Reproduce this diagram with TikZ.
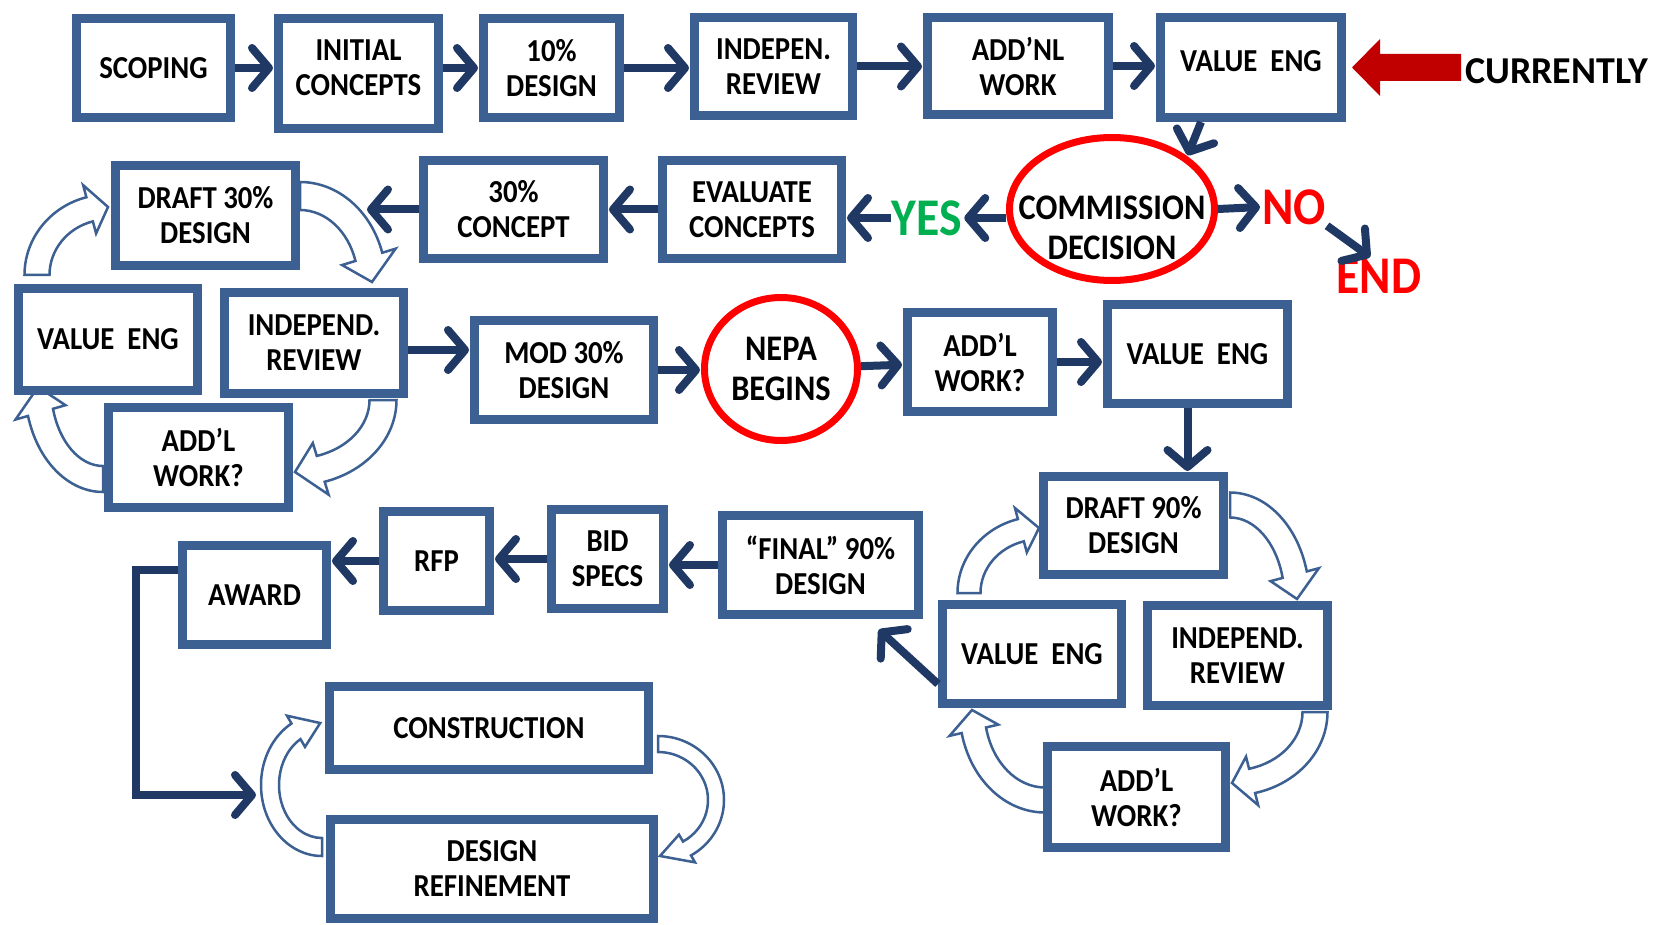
\documentclass[tikz,border=0pt]{standalone}
\usepackage{fontspec}
\setmainfont{Carlito}[FakeStretch=0.9]
\newfontfamily\nowfont{Carlito}
\usetikzlibrary{arrows.meta,shapes.geometric}
\definecolor{StageClr}{RGB}{59,96,145}
\definecolor{FlowClr}{RGB}{31,56,100}
\definecolor{DecideClr}{RGB}{255,0,0}
\definecolor{NowClr}{RGB}{192,0,0}
\definecolor{YesClr}{RGB}{0,176,80}

\newcommand{\stagefont}{\fontsize{32}{35}\selectfont\bfseries}
\newcommand{\decidefont}{\fontsize{36}{40}\selectfont\bfseries}
\newcommand{\answerfont}{\fontsize{53}{56}\selectfont\bfseries}

\newcommand{\cyclearrow}[7]{%
  \pgfmathsetmacro{\rxo}{#2+#7}\pgfmathsetmacro{\ryo}{#3+#7}%
  \pgfmathsetmacro{\rxi}{#2-#7}\pgfmathsetmacro{\ryi}{#3-#7}%
  \filldraw[cyclearr,shift={#1}]
    ({\rxo*cos(#4)},{\ryo*sin(#4)}) arc[start angle=#4,end angle=#5,x radius=\rxo,y radius=\ryo]
    -- ({(#2+2*#7)*cos(#5)},{(#3+2*#7)*sin(#5)})
    -- ({#2*cos(#6)},{#3*sin(#6)})
    -- ({(#2-2*#7)*cos(#5)},{(#3-2*#7)*sin(#5)})
    -- ({\rxi*cos(#5)},{\ryi*sin(#5)}) arc[start angle=#5,end angle=#4,x radius=\rxi,y radius=\ryi]
    -- cycle;}

\begin{document}
\begin{tikzpicture}[x=1pt,y=-1pt,
  stage/.style={draw=StageClr,line width=9pt,fill=white,align=center,inner sep=0pt,font=\stagefont},
  decide/.style={ellipse,draw=DecideClr,line width=7pt,fill=white,inner sep=0pt},
  decidetext/.style={font=\decidefont,align=center},
  flow/.style={draw=FlowClr,line width=8pt,-{Straight Barb[length=17pt,width=40pt,round]},shorten >=1pt},
  cyclearr/.style={draw=StageClr,line width=2.5pt,fill=white},
  answer/.style={font=\answerfont,inner sep=1pt}]

\path[use as bounding box,fill=white] (0,0) rectangle (1663,925);

\cyclearrow{(108,275)}{71}{68}{180}{255}{270}{12.5}
\cyclearrow{(300,282)}{72}{86}{270}{343}{360}{14}
\cyclearrow{(295,400)}{88}{72}{0}{73}{90}{13.5}
\cyclearrow{(103,387)}{65}{92}{90}{164}{180}{13}

\cyclearrow{(1039,593)}{70}{65}{180}{255}{270}{11.5}
\cyclearrow{(1230,599)}{67}{94}{270}{345}{360}{12.5}
\cyclearrow{(1232,712)}{83}{71}{0}{76}{90}{12.5}
\cyclearrow{(1045,710)}{73}{90}{90}{167}{180}{12.5}

\cyclearrow{(322,785)}{52}{62}{90}{240}{268}{9}
\cyclearrow{(658,800)}{58}{56}{270}{420}{448}{8}

\node[stage,minimum width=154,minimum height=99] (scoping) at (153.5,68) {SCOPING};
\node[stage,minimum width=160,minimum height=110,text depth=12pt] (initial) at (358.5,73.5) {INITIAL\\CONCEPTS};
\node[stage,minimum width=136,minimum height=99] (tenpct) at (551.5,68) {10\%\\DESIGN};
\node[stage,minimum width=158,minimum height=98] (indepen) at (773.5,66.5) {INDEPEN.\\REVIEW};
\node[stage,minimum width=181,minimum height=97] (addnl) at (1018,66) {ADD’NL\\WORK};
\node[stage,minimum width=181,minimum height=100,text depth=12pt] (valueeng) at (1251,67.5) {VALUE\ \ ENG};

\node[stage,minimum width=180,minimum height=100] (draftthirty) at (205.5,215.5) {DRAFT 30\%\\DESIGN};
\node[stage,minimum width=180,minimum height=98] (concept) at (513.5,209.5) {30\%\\CONCEPT};
\node[stage,minimum width=179,minimum height=98] (evaluate) at (752,209.5) {EVALUATE\\CONCEPTS};
\node[decide,minimum width=205,minimum height=143,label={[decidetext,yshift=-19pt]center:COMMISSION\\DECISION}] (commission) at (1112,209) {};
\node[answer,text=YesClr] (yes) at (927,218) {YES};
\node[answer,text=DecideClr] (no) at (1294,207) {NO};
\node[answer,text=DecideClr] (end) at (1379,276) {END};

\node[stage,minimum width=179,minimum height=102] (lvalue) at (108,339.5) {VALUE\ \ ENG};
\node[stage,minimum width=179,minimum height=101] (lindep) at (314,343) {INDEPEND.\\REVIEW};
\node[stage,minimum width=180,minimum height=100] (laddl) at (198.5,457.5) {ADD’L\\WORK?};

\node[stage,minimum width=179,minimum height=99] (modthirty) at (564,370) {MOD 30\%\\DESIGN};
\node[decide,minimum width=153,minimum height=143,label={[decidetext]center:NEPA\\BEGINS}] (nepa) at (781,369) {};
\node[stage,minimum width=145,minimum height=99] (raddl) at (980,362) {ADD’L\\WORK?};
\node[stage,minimum width=180,minimum height=99] (rvalue) at (1197.5,354) {VALUE\ \ ENG};

\node[stage,minimum width=180,minimum height=98] (draftninety) at (1133.5,525.5) {DRAFT 90\%\\DESIGN};
\node[stage,minimum width=179,minimum height=99] (rrvalue) at (1032,654) {VALUE\ \ ENG};
\node[stage,minimum width=180,minimum height=100] (rrindep) at (1237.5,655.5) {INDEPEND.\\REVIEW};
\node[stage,minimum width=178,minimum height=101] (rraddl) at (1136.5,797) {ADD’L\\WORK?};

\node[stage,minimum width=196,minimum height=99] (final) at (820.5,565) {“FINAL” 90\%\\DESIGN};
\node[stage,minimum width=112,minimum height=99] (bidspecs) at (607.5,559) {BID\\SPECS};
\node[stage,minimum width=106,minimum height=99] (rfp) at (436.5,561) {RFP};
\node[stage,minimum width=144,minimum height=99] (award) at (254.5,595) {AWARD};
\node[stage,minimum width=319,minimum height=83] (construction) at (489,728) {CONSTRUCTION};
\node[stage,minimum width=323,minimum height=99] (refinement) at (492,869) {DESIGN\\REFINEMENT};

\fill[NowClr] ([xshift=6pt]valueeng.east) -- ++(28,-28.5) -- ++(0,15) -- ++(81,0) -- ++(0,27) -- ++(-81,0) -- ++(0,15) -- cycle;
\node[font={\nowfont\fontsize{38}{40}\selectfont\bfseries},anchor=west,inner sep=0pt] (currently) at (1465,71) {CURRENTLY};

\draw[flow] (scoping.east) -- (scoping.east -| initial.west);
\draw[flow] (initial.east |- tenpct) -- (tenpct.west);
\draw[flow] (tenpct.east) -- (tenpct.east -| indepen.west);
\draw[flow] (indepen.east) -- (indepen.east -| addnl.west);
\draw[flow] (addnl.east) -- (addnl.east -| valueeng.west);

\draw[flow] ([xshift=-50pt]valueeng.south) -- (commission.35);
\draw[flow] (commission.east) -- (no.west);
\draw[flow] (no.south east) -- ([xshift=-8pt]end.north);
\draw[flow] (commission.west |- yes) -- (yes.east);
\draw[flow] (yes.west) -- (yes.west -| evaluate.east);
\draw[flow] (evaluate.west) -- (evaluate.west -| concept.east);
\coordinate (draftin) at (366,209.5);
\draw[flow] (concept.west) -- (draftin);

\draw[flow] ([yshift=-7pt]lindep.east) -- ([yshift=-7pt]lindep.east -| modthirty.west);
\draw[flow] (modthirty.east) -- (modthirty.east -| nepa.west);
\draw[flow] (nepa) -- (raddl);
\draw[flow] (raddl.east) -- (raddl.east -| rvalue.west);
\draw[flow] ([xshift=-10pt]rvalue.south) -- ([xshift=-10pt]rvalue.south |- draftninety.north);

\draw[flow] ([yshift=-30pt]rrvalue.west) -- ([xshift=-45pt,yshift=-10pt]final.south east);
\draw[flow] (final.west) -- (final.west -| bidspecs.east);
\draw[flow] (bidspecs.west) -- (bidspecs.west -| rfp.east);
\draw[flow] (rfp.west) -- (rfp.west -| award.east);
\coordinate (buildin) at (257,795);
\draw[flow] ([yshift=25pt]award.west) -- ++(-42,0) |- (buildin);

\end{tikzpicture}
\end{document}
